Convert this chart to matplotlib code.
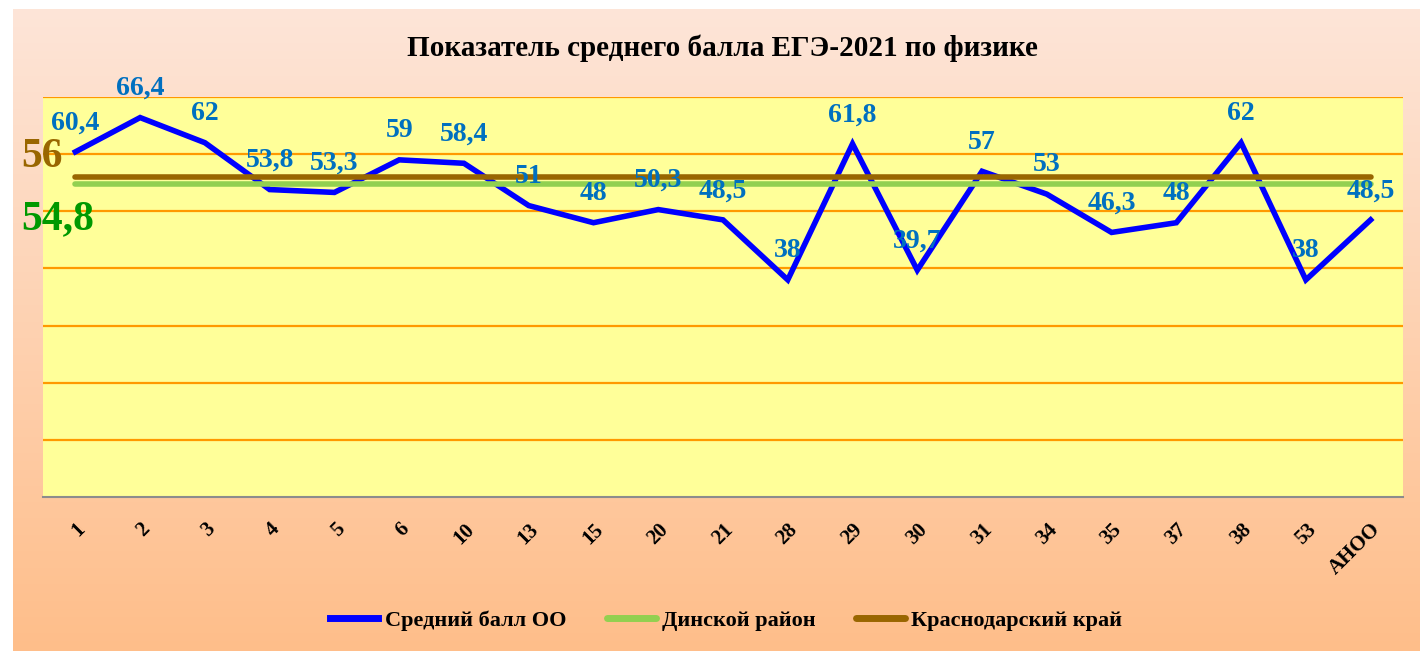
import matplotlib
matplotlib.use("Agg")
import matplotlib.pyplot as plt
import numpy as np
from matplotlib.colors import LinearSegmentedColormap

plt.rcParams['font.family'] = ['Liberation Serif', 'DejaVu Serif']
plt.rcParams['font.weight'] = 'bold'

# data
schools = ['1', '2', '3', '4', '5', '6', '10', '13', '15', '20', '21',
           '28', '29', '30', '31', '34', '35', '37', '38', '53', 'АНОО']
avg_oo = [60.4, 66.4, 62, 53.8, 53.3, 59, 58.4, 51, 48, 50.3, 48.5,
          38, 61.8, 39.7, 57, 53, 46.3, 48, 62, 38, 48.5]
avg_labels = ['60,4', '66,4', '62', '53,8', '53,3', '59', '58,4', '51', '48', '50,3', '48,5',
              '38', '61,8', '39,7', '57', '53', '46,3', '48', '62', '38', '48,5']
dinsk = 54.8
krai = 56
series_names = ['Средний балл ОО', 'Динской район', 'Краснодарский край']

W, H = 1420, 651
fig = plt.figure(figsize=(W / 100, H / 100), dpi=100)
fig.patch.set_facecolor('white')

# gradient background of the chart area
bg = fig.add_axes([13 / W, 0, 1 - 13 / W, (H - 9) / H])
cmap = LinearSegmentedColormap.from_list('peach', ['#FDE5D8', '#FFBE8A'])
bg.imshow(np.linspace(0, 1, 256).reshape(-1, 1), aspect='auto', cmap=cmap,
          extent=[0, 1, 0, 1], origin='upper')
bg.set_axis_off()

ax = fig.add_axes([43 / W, (H - 497) / H, (1403 - 43) / W, (497 - 97) / H])
ax.set_facecolor('#FFFF99')
x = np.arange(len(schools))

ax.plot(x, avg_oo, color='#0000FF', lw=4, solid_joinstyle='miter', zorder=3, label=series_names[0])
ax.plot(x, [dinsk] * len(x), color='#92D050', lw=4, solid_capstyle='round', zorder=4, label=series_names[1])
ax.plot(x, [krai] * len(x), color='#996600', lw=4, solid_capstyle='round', zorder=5, label=series_names[2])

for xi, v, s in zip(x, avg_oo, avg_labels):
    ax.annotate(s, (xi, v), xytext=(0, 21), textcoords='offset points',
                ha='center', va='center', color='#0070C0', fontsize=20,
                fontweight='bold', zorder=6)

ax.set_xlim(-0.5, len(x) - 0.5)
ax.set_ylim(0, 70)
ax.set_yticks(np.arange(10, 71, 10))
ax.yaxis.grid(True, color='#FF9900', lw=1.6)
ax.set_axisbelow(True)
ax.tick_params(axis='y', left=False, labelleft=False)
ax.tick_params(axis='x', length=0, pad=16)
ax.set_xticks(x)
ax.set_xticklabels(schools, rotation=45, ha='right', rotation_mode='anchor',
                   fontsize=15, fontweight='bold')
for side in ['left', 'right', 'top']:
    ax.spines[side].set_visible(False)
ax.spines['bottom'].set_color('#8C8C8C')
ax.spines['bottom'].set_linewidth(1.5)

fig.text(722 / W, 1 - 48 / H, 'Показатель среднего балла ЕГЭ-2021 по физике',
         ha='center', va='center', fontsize=21, fontweight='bold', color='black')

fig.text(21 / W, 1 - 157 / H, '56', ha='left', va='center', fontsize=30,
         fontweight='bold', color='#996600')
fig.text(21 / W, 1 - 219 / H, '54,8', ha='left', va='center', fontsize=30,
         fontweight='bold', color='#009900')

leg = fig.legend(loc='center', bbox_to_anchor=(726 / W, 1 - 621 / H), ncol=3,
                 frameon=False, handlelength=2.2, handletextpad=0.3,
                 columnspacing=1.8, prop={'size': 16, 'weight': 'bold'})
for line in leg.get_lines():
    line.set_linewidth(5)

fig.savefig('out.png', dpi=100)
